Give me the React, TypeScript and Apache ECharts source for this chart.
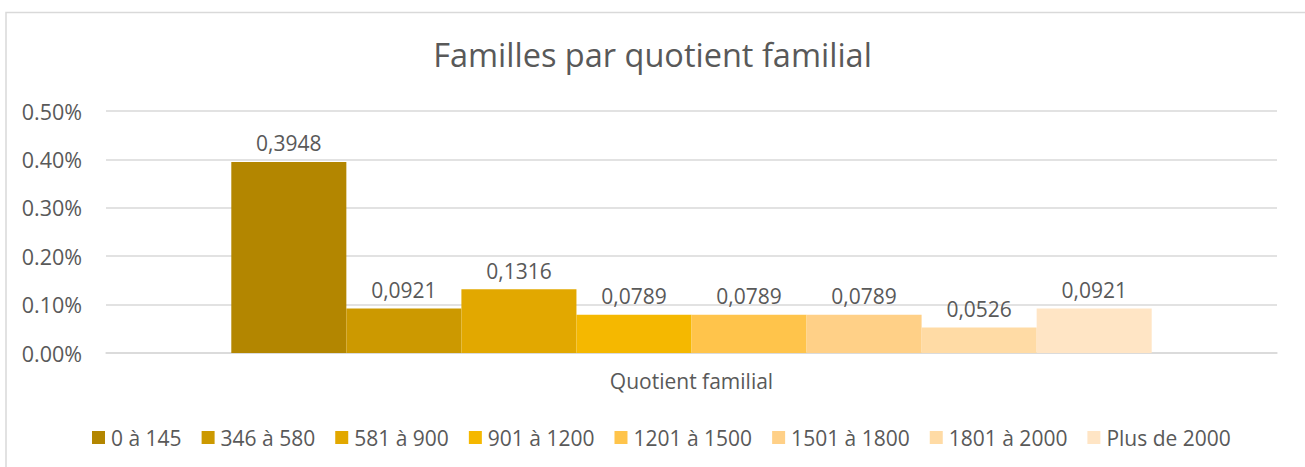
import React, { useEffect, useRef } from "react";
import * as echarts from "echarts";

const categories = ["Quotient familial"];
const seriesNames = [
  "0 à 145",
  "346 à 580",
  "581 à 900",
  "901 à 1200",
  "1201 à 1500",
  "1501 à 1800",
  "1801 à 2000",
  "Plus de 2000",
];
const seriesValues = [0.3948, 0.0921, 0.1316, 0.0789, 0.0789, 0.0789, 0.0526, 0.0921];
const seriesColors = [
  "#B38600",
  "#CC9900",
  "#E2A800",
  "#F5B800",
  "#FFC44B",
  "#FFD087",
  "#FFDBA5",
  "#FFE5C5",
];
const yTicks = { min: 0, max: 0.5, interval: 0.1 };

const FONT = "'Open Sans', 'Noto Sans', sans-serif";
const TEXT = "#595959";

export default function App() {
  const ref = useRef<HTMLDivElement>(null);
  useEffect(() => {
    if (!ref.current) return;
    const chart = echarts.init(ref.current, undefined, { renderer: "svg" });
    chart.setOption({
      animation: false,
      backgroundColor: "#ffffff",
      textStyle: { fontFamily: FONT, color: TEXT },
      title: {
        text: "Familles par quotient familial",
        left: "center",
        top: 33,
        textStyle: { fontFamily: FONT, fontSize: 32.5, fontWeight: "normal", color: TEXT },
      },
      graphic: [
        {
          type: "rect",
          shape: { x: 6, y: 12.5, width: 1310, height: 470 },
          style: { fill: "none", stroke: "#d9d9d9", lineWidth: 1.5 },
          silent: true,
          z: -10,
        },
      ],
      legend: {
        bottom: 14,
        left: 87,
        itemWidth: 13,
        itemHeight: 13,
        itemGap: 20,
        icon: "rect",
        textStyle: { fontFamily: FONT, fontSize: 21, color: TEXT, padding: [0, 0, 0, 1] },
        data: seriesNames,
      },
      grid: { left: 106, right: 28, top: 111, bottom: 114, containLabel: false },
      xAxis: {
        type: "category",
        data: categories,
        axisLine: { show: true, lineStyle: { color: "#d9d9d9", width: 1.5 } },
        axisTick: { show: false },
        axisLabel: { fontFamily: FONT, fontSize: 21, color: TEXT, margin: 17 },
      },
      yAxis: {
        type: "value",
        min: yTicks.min,
        max: yTicks.max,
        interval: yTicks.interval,
        axisLine: { show: false },
        axisTick: { show: false },
        splitLine: { lineStyle: { color: "#d9d9d9", width: 1.5 } },
        axisLabel: {
          fontFamily: FONT,
          fontSize: 21.5,
          color: TEXT,
          margin: 24,
          formatter: (v: number) => v.toFixed(2) + "%",
        },
      },
      series: seriesNames.map((name, i) => ({
        name,
        type: "bar",
        data: [seriesValues[i]],
        barGap: "0%",
        barCategoryGap: "21.4%",
        itemStyle: { color: seriesColors[i] },
        label: {
          show: true,
          position: "top",
          distance: 8,
          fontFamily: FONT,
          fontSize: 21,
          color: TEXT,
          formatter: (p: any) => Number(p.value).toFixed(4).replace(".", ","),
        },
      })),
    });
    return () => chart.dispose();
  }, []);
  return (
    <div
      ref={ref}
      style={{ position: "fixed", left: 0, top: 0, width: 1305, height: 467 }}
    />
  );
}
